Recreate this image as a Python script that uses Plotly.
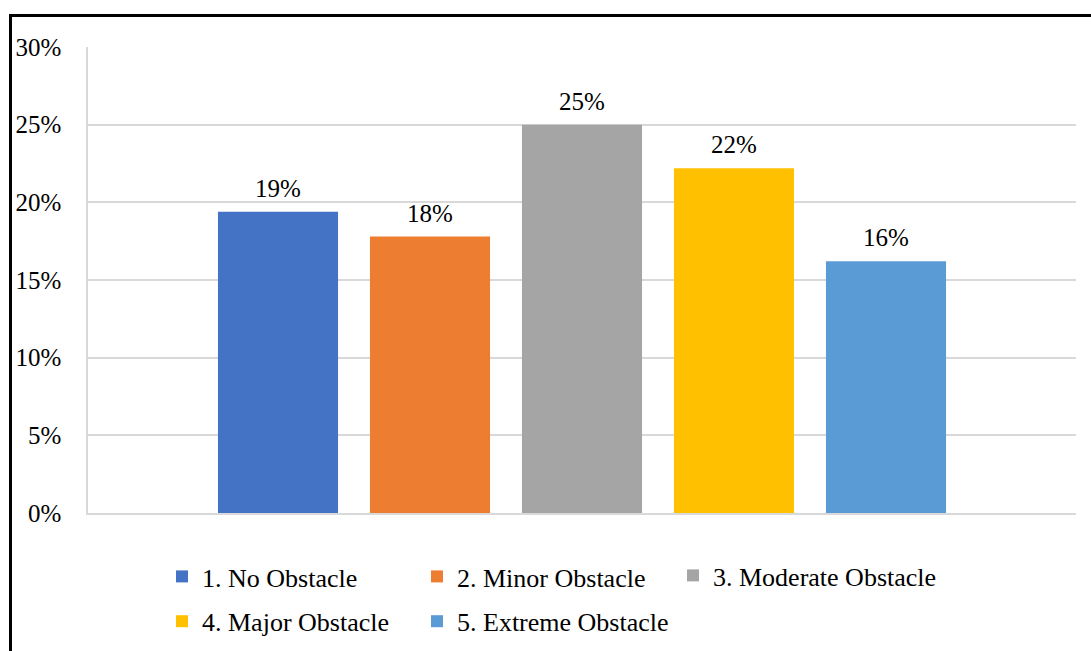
import plotly.graph_objects as go

# Share of respondents per obstacle rating
categories = ["1. No Obstacle", "2. Minor Obstacle", "3. Moderate Obstacle",
              "4. Major Obstacle", "5. Extreme Obstacle"]
shares = [0.194, 0.178, 0.250, 0.222, 0.162]
colors = ["#4472C4", "#ED7D31", "#A5A5A5", "#FFC000", "#5B9BD5"]
legend_of = ["legend", "legend2", "legend3", "legend", "legend2"]
y_ticks = [0, 0.05, 0.10, 0.15, 0.20, 0.25, 0.30]
y_tick_text = ["0%", "5%", "10%", "15%", "20%", "25%", "30%"]

FONT = "Liberation Serif, Times New Roman, serif"

fig = go.Figure()
for cat, val, col, lg in zip(categories, shares, colors, legend_of):
    fig.add_trace(go.Bar(
        x=[cat], y=[val], name=cat, marker_color=col,
        marker_line_width=0, legend=lg, legendgroup=cat,
        hovertemplate="%{x}: %{y:.0%}<extra></extra>",
    ))
    fig.add_annotation(
        x=cat, y=val, text=f"{val:.0%}", showarrow=False,
        yanchor="bottom", yshift=8,
        font=dict(family=FONT, size=25, color="#000000"),
    )

legend_style = dict(
    orientation="v", traceorder="grouped", tracegroupgap=8,
    bgcolor="rgba(0,0,0,0)", borderwidth=0,
    font=dict(family=FONT, size=26, color="#000000"),
    xanchor="left", yanchor="middle",
)

# plot area spans x 88..1076 px and y 47..513 px
fig.update_layout(
    width=1091, height=651,
    margin=dict(l=88, r=15, t=47, b=138, autoexpand=False),
    paper_bgcolor="white", plot_bgcolor="white",
    barmode="overlay", bargap=0.21,
    showlegend=True,
    legend=dict(legend_style, x=(162 - 88) / 988, y=(513 - 599) / 466),
    legend2=dict(legend_style, x=(417 - 88) / 988, y=(513 - 599) / 466),
    legend3=dict(legend_style, x=(673 - 88) / 988, y=(513 - 575.5) / 466),
    xaxis=dict(
        type="category", categoryorder="array", categoryarray=categories,
        range=[-1.25, 5.25], showticklabels=False, showgrid=False,
        zeroline=False, showline=True, linecolor="#D9D9D9", linewidth=1.5,
        ticks="",
    ),
    yaxis=dict(
        range=[0, 0.30], tickvals=y_ticks, ticktext=y_tick_text,
        showgrid=True, gridcolor="#D9D9D9", gridwidth=1.5,
        zeroline=False, showline=True, linecolor="#D9D9D9", linewidth=1.5,
        ticks="", ticklabelstandoff=20,
        tickfont=dict(family=FONT, size=25, color="#000000"),
    ),
    shapes=[dict(
        type="rect", xref="paper", yref="paper",
        x0=(10.5 - 88) / 988, x1=(1110 - 88) / 988,
        y0=(513 - 670) / 466, y1=(513 - 15.5) / 466,
        line=dict(color="#000000", width=3), fillcolor="rgba(0,0,0,0)",
        layer="above",
    )],
)

fig.write_html("out.html")
